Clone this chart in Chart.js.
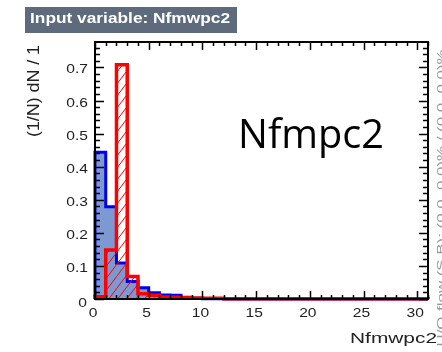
<!DOCTYPE html>
<html>
<head>
<meta charset="utf-8">
<script src="https://cdn.jsdelivr.net/npm/chart.js@4.4.0/dist/chart.umd.min.js"></script>
<style>
  html, body { margin: 0; padding: 0; background: #fff; }
  #wrap { width: 442px; height: 352px; }
</style>
</head>
<body>
<div id="wrap"><canvas id="grafico" width="442" height="352"></canvas></div>
<script>
// histogram bins (lower edges, width 1) and normalised contents
const binEdges   = [0, 1, 2, 3, 4, 5, 6, 7, 8, 9, 10, 11, 12, 13, 14, 15, 16, 17, 18, 19, 20, 21, 22, 23, 24, 25, 26, 27, 28, 29, 30, 31];
const signal     = [0.444, 0.279, 0.109, 0.053, 0.034, 0.019, 0.012, 0.011, 0.005, 0.002, 0.001, 0.001, 0, 0, 0, 0, 0, 0, 0, 0, 0, 0, 0, 0, 0, 0, 0, 0, 0, 0, 0];
const background = [0.007, 0.148, 0.708, 0.068, 0.016, 0.011, 0.006, 0.005, 0.004, 0.003, 0.002, 0.002, 0.001, 0.001, 0.001, 0.001, 0.001, 0.001, 0.001, 0.001, 0.001, 0.001, 0.001, 0.001, 0.001, 0.001, 0.001, 0.001, 0.001, 0.001, 0.001];

// axis labels
const xTicks = [0, 5, 10, 15, 20, 25, 30];
const xTickLabels = ["0", "5", "10", "15", "20", "25", "30"];
const yTicks = [0, 0.1, 0.2, 0.3, 0.4, 0.5, 0.6, 0.7];
const yTickLabels = ["0", "0.1", "0.2", "0.3", "0.4", "0.5", "0.6", "0.7"];
const xMax = 31;
const yMax = 0.777;

// step outline: (edge, content) pairs closed to zero at both ends
function stepPoints(vals) {
    const pts = [{ x: binEdges[0], y: 0 }];
    vals.forEach((v, i) => pts.push({ x: binEdges[i], y: v }));
    pts.push({ x: binEdges[vals.length], y: vals[vals.length - 1] });
    pts.push({ x: binEdges[vals.length], y: 0 });
    return pts;
}

function hatchPattern(ctx) {
    const c = document.createElement("canvas");
    c.width = 9; c.height = 12;
    const g = c.getContext("2d");
    g.strokeStyle = "#ff0000";
    g.lineWidth = 1;
    g.beginPath();
    g.moveTo(-9, 24);
    g.lineTo(18, -12);
    g.stroke();
    return ctx.createPattern(c, "repeat");
}

function fitText(ctx, txt, x, y, o) {
    ctx.save();
    ctx.font = o.font;
    ctx.fillStyle = o.color || "#000";
    ctx.textAlign = o.align || "left";
    ctx.textBaseline = "alphabetic";
    ctx.translate(x, y);
    if (o.rot) ctx.rotate(o.rot);
    let sx = o.sx || 1;
    if (o.width) sx = o.width / ctx.measureText(txt).width;
    ctx.scale(sx, 1);
    ctx.fillText(txt, 0, 0);
    ctx.restore();
}

const frameAxes = {
    id: "frameAxes",
    afterDatasetsDraw(chart) {
        const ctx = chart.ctx;
        const a = chart.chartArea;
        const xs = chart.scales.x, ys = chart.scales.y;
        ctx.save();
        ctx.strokeStyle = "#000";
        ctx.lineWidth = 1.5;
        ctx.beginPath();
        for (let i = 0; i <= xMax; i++) {
            const px = Math.round(xs.getPixelForValue(i)) + 0.5;
            const len = i % 5 === 0 ? 8 : 4;
            ctx.moveTo(px, a.bottom); ctx.lineTo(px, a.bottom - len);
            ctx.moveTo(px, a.top); ctx.lineTo(px, a.top + len);
        }
        for (let k = 0; k * 0.02 <= yMax; k++) {
            const py = Math.round(ys.getPixelForValue(k * 0.02)) + 0.5;
            const len = k % 5 === 0 ? 9 : 5;
            ctx.moveTo(a.left, py); ctx.lineTo(a.left + len, py);
            ctx.moveTo(a.right, py); ctx.lineTo(a.right - len, py);
        }
        ctx.stroke();
        ctx.lineWidth = 2;
        ctx.strokeRect(a.left, a.top, a.right - a.left, a.bottom - a.top);
        ctx.restore();
    },
    afterDraw(chart) {
        const ctx = chart.ctx;
        const xs = chart.scales.x, ys = chart.scales.y;
        const lab = "13px 'Liberation Sans', Arial, sans-serif";

        xTicks.forEach((v, i) => {
            fitText(ctx, xTickLabels[i], xs.getPixelForValue(v) - 2, 317, { font: lab, align: "center", sx: 1.2, color: "#222" });
        });
        yTicks.forEach((v, i) => {
            const off = v === 0 ? 8 : 6;
            fitText(ctx, yTickLabels[i], v === 0 ? 87 : 88, ys.getPixelForValue(v) + off, { font: lab, align: "right", sx: 1.2, color: "#222" });
        });

        // title box
        ctx.save();
        ctx.fillStyle = "#5d6b7d";
        ctx.fillRect(25, 7, 212, 26);
        ctx.restore();
        fitText(ctx, "Input variable: Nfmwpc2", 30, 23, { font: "bold 15px 'Liberation Sans', Arial, sans-serif", color: "#fff", width: 200 });

        // axis titles
        fitText(ctx, "(1/N) dN / 1", 38.5, 91, { font: "16px 'Liberation Sans', Arial, sans-serif", align: "center", rot: -Math.PI / 2, width: 92, color: "#222" });
        fitText(ctx, "Nfmwpc2", 437, 342.5, { font: "15px 'Liberation Sans', Arial, sans-serif", align: "right", width: 87, color: "#222" });

        // overflow note on the right edge
        fitText(ctx, "U/O-flow (S,B): (0.0, 0.0)% / (0.0, 0.0)%", 445, 198, { font: "11px 'Liberation Sans', Arial, sans-serif", align: "center", rot: -Math.PI / 2, width: 297, color: "#9a9a9a" });

        // pasted label
        fitText(ctx, "Nfmpc2", 238, 148, { font: "40px 'Open Sans', sans-serif", width: 146, color: "#000" });
    }
};

const graficoCtx = document.getElementById("grafico").getContext("2d");

new Chart(graficoCtx, {
    type: "line",
    data: {
        datasets: [{
            label: "Background",
            data: stepPoints(background),
            stepped: "before",
            borderColor: "#ff0000",
            borderWidth: 3.5,
            backgroundColor: hatchPattern(graficoCtx),
            fill: "origin",
            pointRadius: 0,
            borderJoinStyle: "miter",
            clip: false,
            order: 0
        }, {
            label: "Signal",
            data: stepPoints(signal),
            stepped: "before",
            borderColor: "#0000ee",
            borderWidth: 3,
            backgroundColor: "#7d99d1",
            fill: "origin",
            pointRadius: 0,
            borderJoinStyle: "miter",
            clip: false,
            order: 1
        }]
    },
    options: {
        responsive: false,
        animation: false,
        devicePixelRatio: 1,
        layout: { padding: { left: 95, right: 14, top: 42, bottom: 53 } },
        plugins: {
            legend: { display: false },
            tooltip: { enabled: false }
        },
        scales: {
            x: { type: "linear", min: 0, max: xMax, display: false },
            y: { type: "linear", min: 0, max: yMax, display: false }
        }
    },
    plugins: [frameAxes]
});
</script>
</body>
</html>
